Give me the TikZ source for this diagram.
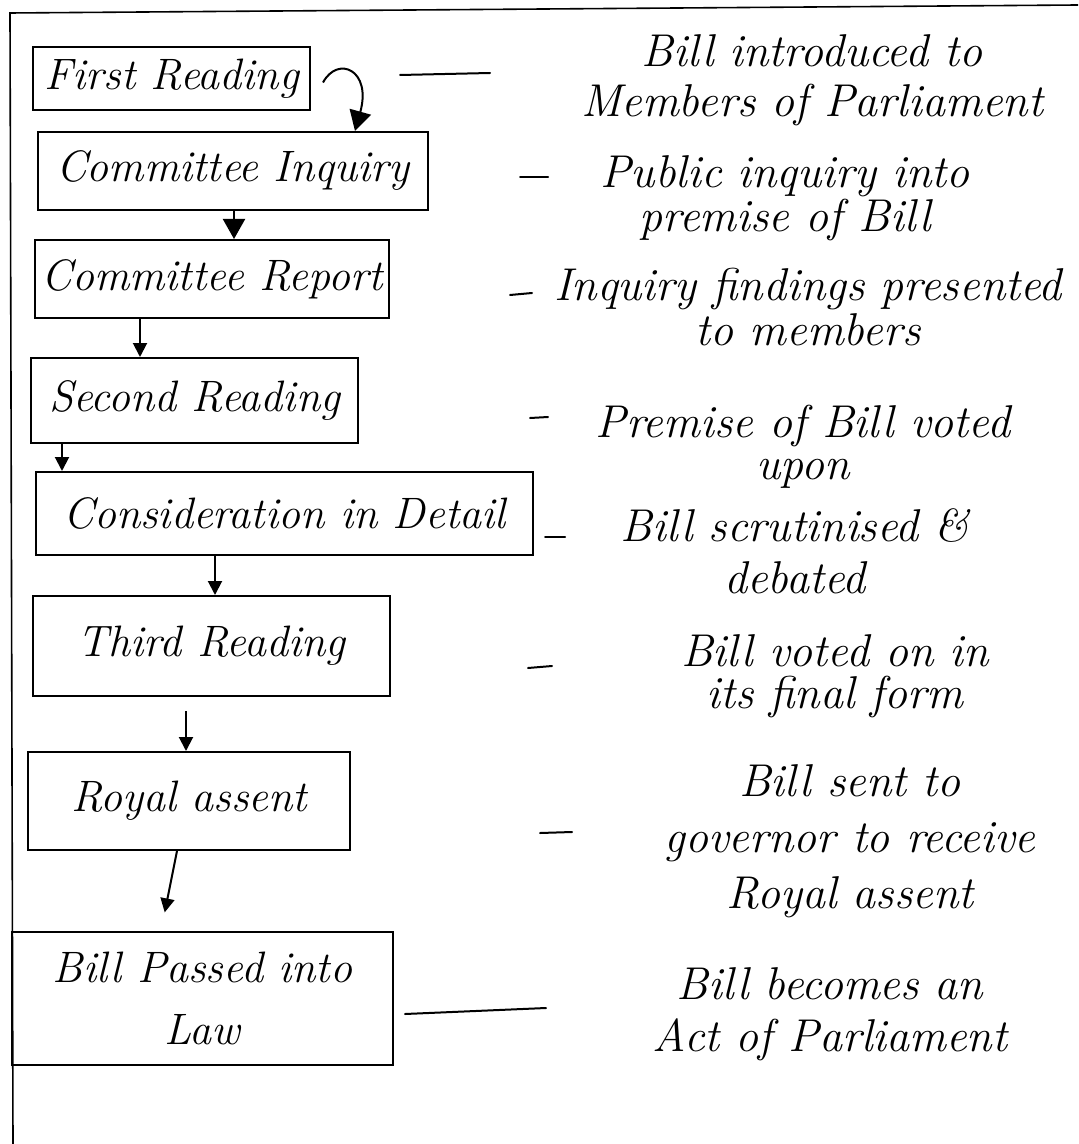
\documentclass[tikz,border=0pt]{standalone}
\usetikzlibrary{arrows.meta,calc}
\begin{document}
\begin{tikzpicture}[x=0.5pt,y=-0.5pt,
  box/.style={draw, line width=1pt, inner sep=0pt, align=center,
    font=\fontsize{22}{31}\selectfont\itshape},
  desc/.style={inner sep=0pt, align=center,
    font=\fontsize{23}{21}\selectfont\itshape},
  arr/.style={line width=1pt, -{Triangle[length=7pt,width=7pt]}},
  bigarr/.style={line width=1pt, -{Triangle[length=10pt,width=11pt]}},
  tick/.style={line width=1pt, line cap=round}]
\useasboundingbox (0,0) rectangle (1078,1144);
% frame
\draw[line width=0.8pt] (1078,5) -- (10,13) -- (13,1144);

% boxes
\node[box, minimum width=138.5pt, minimum height=31.5pt] (b1) at (171.5,78.5) {First Reading};
\node[box, minimum width=195pt,   minimum height=39pt]   (b2) at (233,171)    {Committee Inquiry};
\node[box, minimum width=177pt,   minimum height=39pt]   (b3) at (212,279)    {Committee Report};
\node[box, minimum width=163.5pt, minimum height=42.5pt] (b4) at (194.5,400.5) {Second Reading};
\node[box, minimum width=248.5pt, minimum height=41.5pt] (b5) at (284.5,513.5) {Consideration in Detail};
\node[box, minimum width=178.5pt, minimum height=50pt]   (b6) at (211.5,646)  {Third Reading};
\node[box, minimum width=161pt,   minimum height=49pt]   (b7) at (189,801)    {Royal assent};
\node[box, minimum width=190.5pt, minimum height=66.5pt] (b8) at (202.5,998.5) {Bill Passed into\\Law};

% descriptions
\node[desc, font=\fontsize{23}{25}\selectfont\itshape] (d1) at (812,80)  {Bill introduced to\\Members of Parliament};
\node[desc, font=\fontsize{23}{20.5}\selectfont\itshape] (d2) at (785,198) {Public inquiry into\\premise of Bill};
\node[desc, font=\fontsize{23}{22.5}\selectfont\itshape] (d3) at (808,307) {Inquiry findings presented\\to members};
\node[desc, font=\fontsize{23}{21}\selectfont\itshape] (d4) at (803,447) {Premise of Bill voted\\upon};
\node[desc, font=\fontsize{23}{26}\selectfont\itshape] (d5) at (795,551) {Bill scrutinised \&\\debated};
\node[desc, font=\fontsize{23}{21}\selectfont\itshape] (d6) at (835,676) {Bill voted on in\\its final form};
\node[desc, font=\fontsize{23}{28}\selectfont\itshape] (d7) at (850,841) {Bill sent to\\governor to receive\\Royal assent};
\node[desc, font=\fontsize{23}{26}\selectfont\itshape] (d8) at (830,1014) {Bill becomes an\\Act of Parliament};

% arrow columns
\coordinate (x12) at (355,0);
\coordinate (x23) at (234,0);
\coordinate (x34) at (140,0);
\coordinate (x45) at (62,0);
\coordinate (x56) at (215,0);
\coordinate (x67) at (186,0);
\coordinate (x78a) at (177,0);
\coordinate (x78b) at (161,0);

\draw[bigarr] ([xshift=6pt,yshift=-2pt]b1.east) .. controls (338,55) and (372,70) .. (b2.north -| x12);
\draw[bigarr] (b2.south -| x23) -- (b3.north -| x23);
\draw[arr] (b3.south -| x34) -- (b4.north -| x34);
\draw[arr] (b4.south -| x45) -- (b5.north -| x45);
\draw[arr] (b5.south -| x56) -- (b6.north -| x56);
\draw[arr, shorten <=7pt] (b6.south -| x67) -- (b7.north -| x67);
\draw[arr, shorten >=9.5pt] (b7.south -| x78a) -- (b8.north -| x78b);

% dashes between steps and descriptions
\coordinate (t1a) at (400,75);  \coordinate (t1b) at (490,73);
\coordinate (t2a) at (520,177); \coordinate (t2b) at (548,177);
\coordinate (t3a) at (510,295); \coordinate (t3b) at (532,293);
\coordinate (t4a) at (530,418); \coordinate (t4b) at (548,417);
\coordinate (t5a) at (545,537); \coordinate (t5b) at (565,537);
\coordinate (t6a) at (528,668); \coordinate (t6b) at (552,666);
\coordinate (t7a) at (540,833); \coordinate (t7b) at (572,832);
\coordinate (t8a) at (405,1014); \coordinate (t8b) at (546,1008);
\foreach \i in {1,...,8} \draw[tick] (t\i a) -- (t\i b);
\end{tikzpicture}
\end{document}
